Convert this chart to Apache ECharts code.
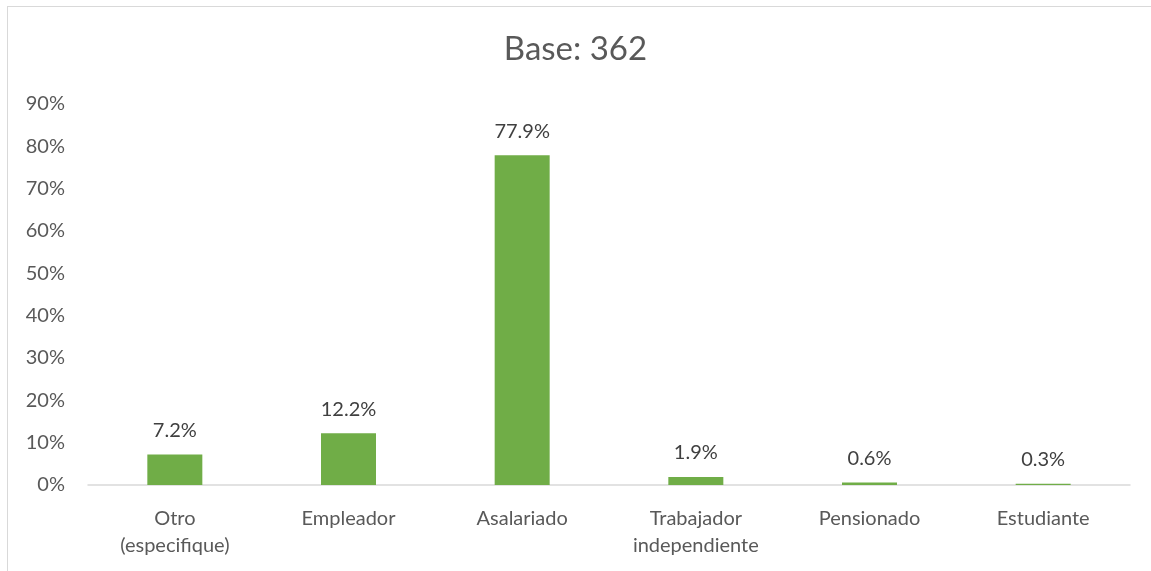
<!DOCTYPE html>
<html>
<head>
<meta charset="utf-8">
<script src="https://cdn.jsdelivr.net/npm/echarts@6/dist/echarts.min.js"></script>
<style>
  html, body { margin: 0; padding: 0; background: #fff; }
  #frame { position: absolute; left: 7px; top: 6px; width: 1160px; height: 580px; border: 1px solid #d9d9d9; box-sizing: border-box; }
  #chart { position: absolute; left: 0; top: 0; width: 1151px; height: 571px; }
</style>
</head>
<body>
<div id="frame"></div>
<div id="chart"></div>
<script>
// categorias y valores (%)
var categories = ['Otro\n(especifique)', 'Empleador', 'Asalariado', 'Trabajador\nindependiente', 'Pensionado', 'Estudiante'];
var values = [7.2, 12.2, 77.9, 1.9, 0.6, 0.3];
var titleText = 'Base: 362';

var myChart = echarts.init(document.getElementById('chart'));
myChart.setOption({
    backgroundColor: 'transparent',
    title: {
        text: titleText,
        left: 'center',
        top: 28,
        textStyle: { fontFamily: 'Lato', fontSize: 33, fontWeight: 'normal', color: '#595959' }
    },
    grid: { left: 88, right: 21, top: 104, bottom: 86 },
    xAxis: {
        type: 'category',
        data: categories,
        axisLine: { lineStyle: { color: '#d9d9d9', width: 1.5 } },
        axisTick: { show: false },
        axisLabel: {
            fontFamily: 'Lato', fontSize: 20, color: '#595959',
            margin: 20, lineHeight: 27, interval: 0
        }
    },
    yAxis: {
        type: 'value',
        min: 0,
        max: 90,
        interval: 10,
        splitLine: { show: false },
        axisLine: { show: false },
        axisTick: { show: false },
        axisLabel: {
            fontFamily: 'Lato', fontSize: 20, color: '#595959', margin: 23,
            formatter: '{value}%'
        }
    },
    series: [{
        type: 'bar',
        data: values,
        barWidth: 55,
        itemStyle: { color: '#70ad47' },
        label: {
            show: true,
            position: 'top',
            distance: 14,
            fontFamily: 'Lato', fontSize: 20, color: '#404040',
            formatter: function (p) { return p.value.toFixed(1) + '%'; }
        }
    }]
});
</script>
</body>
</html>
